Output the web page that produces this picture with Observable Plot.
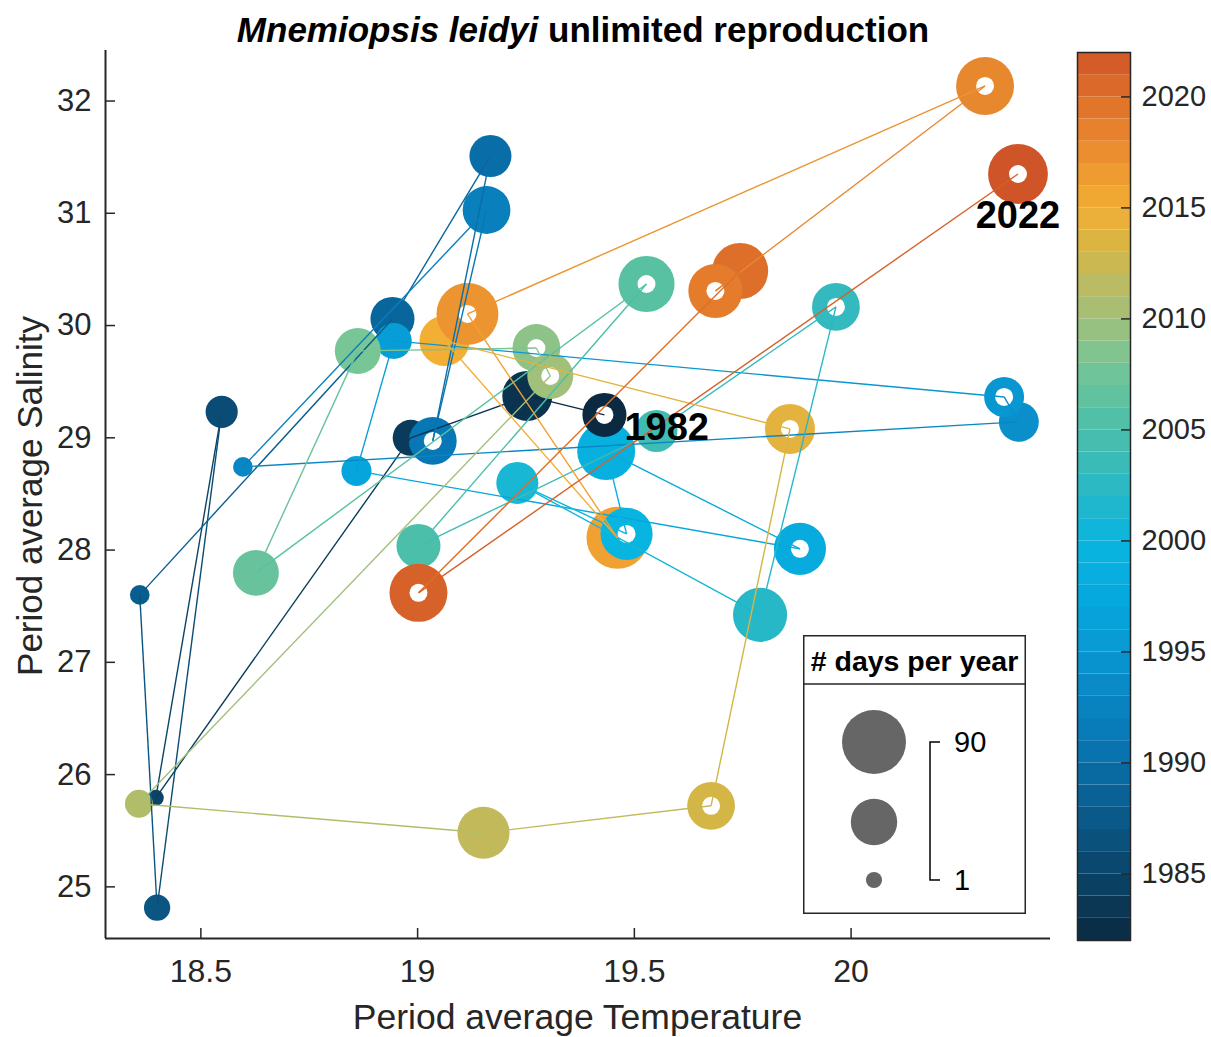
<!DOCTYPE html>
<html>
<head>
<meta charset="utf-8">
<script src="https://cdn.jsdelivr.net/npm/d3@7"></script>
<script src="https://cdn.jsdelivr.net/npm/@observablehq/plot@0.6"></script>
<style>
  html, body { margin: 0; padding: 0; background: white; }
  #wrap { position: relative; width: 1211px; height: 1037px; background: white;
          font-family: "Liberation Sans", Arial, Helvetica, sans-serif; color: #262626; }
  #wrap > * { position: absolute; }
  .title { top: 9px; left: 0; width: 1166px; text-align: center; font-size: 35px; font-weight: bold; color: #000; line-height: 42px; }
  .xlabel { top: 996px; left: 105px; width: 945px; text-align: center; font-size: 35.5px; line-height: 42px; }
  .ylabel { left: 30px; top: 496px; font-size: 35px; transform: translate(-50%, -50%) rotate(-90deg); white-space: nowrap; }
</style>
</head>
<body>
<div id="wrap"></div>
<script>
// ---------- data ----------
const years = [1982,1983,1984,1985,1986,1987,1988,1989,1990,1991,1992,1993,1994,1995,1996,1997,1998,1999,2000,2001,2002,2003,2004,2005,2006,2007,2008,2009,2010,2011,2012,2013,2014,2015,2016,2017,2018,2019,2020,2021,2022];
const temperature = [19.431,19.253,18.984,18.396,18.548,18.399,18.359,18.942,19.168,19.035,19.159,18.597,20.387,20.353,18.945,18.859,19.882,19.435,19.482,19.230,19.790,19.965,19.551,19.002,19.528,18.627,18.862,19.274,19.306,18.357,19.152,19.677,19.859,19.062,19.461,19.115,20.309,19.687,19.744,19.002,20.385];
const salinity = [29.204,29.373,29.000,25.793,29.231,24.814,27.601,30.059,31.510,28.972,31.029,28.741,29.142,29.364,29.863,28.705,28.011,28.883,28.144,28.598,27.423,30.166,29.061,28.037,30.370,27.797,29.774,29.800,29.551,25.740,25.482,25.722,29.079,29.863,28.109,30.103,32.134,30.308,30.486,27.619,31.350];
const daysPerYear = [40,53,25,1,19,11,4,40,36,48,48,4,32,32,25,16,58,73,58,36,63,48,36,40,68,44,44,48,44,13,58,48,53,53,84,84,73,63,68,73,78];
const hollow = [true,false,false,false,false,false,false,false,false,true,false,false,false,true,false,false,true,false,true,false,false,true,false,false,true,false,false,true,true,false,false,true,true,false,false,true,true,true,false,true,true];

const xTicks = [18.5, 19, 19.5, 20];
const yTicks = [25, 26, 27, 28, 29, 30, 31, 32];
const colorbarTicks = [1985, 1990, 1995, 2000, 2005, 2010, 2015, 2020];
const legendDays = [90, 45, 1];
const legendLabels = ["90", "", "1"];

// colormap anchors (year -> colour)
const cmapYears  = [1982, 1985, 1988, 1991, 1994, 1997, 2000, 2002, 2004, 2006, 2008, 2010, 2012, 2013, 2015, 2017, 2019, 2022];
const cmapColors = ["#0b2a42","#0a4468","#0a5d8f","#0877b5","#0a8fcb","#06a6dd","#08b5e0","#27b8c8","#40bcb3","#58c1a2","#78c596","#a1c07a","#c2b95a","#d4b647","#f3ae34","#ec9430","#e47c2c","#cf5528"];

// ---------- build ----------
const pts = years.map((y, i) => ({year: y, t: temperature[i], s: salinity[i], days: daysPerYear[i], hollow: hollow[i]}));
const segs = pts.slice(0, -1).map((p, i) => ({year: p.year, x1: p.t, y1: p.s, x2: pts[i + 1].t, y2: pts[i + 1].s}));
const drawOrder = [...pts.filter(p => !p.hollow), ...pts.filter(p => p.hollow)];

const xDomain = [18.28, 20.46];
const yDomain = [24.54, 32.45];
const W = 1211, H = 1037, mL = 105, mR = 161, mT = 50, mB = 99;
const plotW = W - mL - mR, plotH = H - mT - mB;
const axisColor = "#262626";
const font = "Liberation Sans, Arial, Helvetica, sans-serif";

const colorOpt = {type: "linear", domain: cmapYears, range: cmapColors};
const rOpt = {type: "sqrt", domain: [0, 95], range: [0, 32]};

const chart = Plot.plot({
  width: W, height: H, marginLeft: mL, marginRight: mR, marginTop: mT, marginBottom: mB,
  style: {fontFamily: font, fontSize: "31px", color: axisColor, background: "transparent", overflow: "visible"},
  x: {domain: xDomain},
  y: {domain: yDomain},
  color: colorOpt,
  r: rOpt,
  marks: [
    Plot.axisX({ticks: xTicks, tickSize: 0, tickPadding: 21, fontSize: 32, tickFormat: d => String(d), label: null, fill: axisColor}),
    Plot.axisY({ticks: yTicks, tickSize: 0, tickPadding: 14, fontSize: 31, tickFormat: d => String(d), label: null, fill: axisColor}),
    Plot.ruleX(xTicks, {stroke: axisColor, strokeWidth: 1.5, insetTop: plotH - 10}),
    Plot.ruleY(yTicks, {stroke: axisColor, strokeWidth: 1.5, insetRight: plotW - 10}),
    Plot.ruleX([xDomain[0]], {stroke: axisColor, strokeWidth: 2}),
    Plot.ruleY([yDomain[0]], {stroke: axisColor, strokeWidth: 2}),
    Plot.dot(drawOrder, {x: "t", y: "s", r: d => d.days + 5, fill: "year", stroke: null, sort: null}),
    Plot.dot(pts.filter(p => p.hollow), {x: "t", y: "s", r: 9, fill: "white"}),
    Plot.link(segs, {x1: "x1", y1: "y1", x2: "x2", y2: "y2", stroke: "year", strokeWidth: 1.4}),
    Plot.text([pts[0]], {x: "t", y: "s", text: d => String(d.year), dx: 20, dy: 13, textAnchor: "start", fontSize: 38, fontWeight: "bold", fill: "black"}),
    Plot.text([pts[pts.length - 1]], {x: "t", y: "s", text: d => String(d.year), dx: 0, dy: 42, textAnchor: "middle", fontSize: 38, fontWeight: "bold", fill: "black"})
  ]
});
chart.style.left = "0px"; chart.style.top = "0px";

// colour bar
const cbYears = years.slice(0, -1);
const colorbar = Plot.plot({
  width: 151, height: H, marginLeft: 17, marginRight: 81, marginTop: 52, marginBottom: 97,
  style: {fontFamily: font, fontSize: "29px", color: axisColor, background: "transparent", overflow: "visible"},
  x: {domain: [0, 1], axis: null},
  y: {domain: [years[0], years[years.length - 1]]},
  color: colorOpt,
  marks: [
    Plot.rect(cbYears, {x1: 0, x2: 1, y1: d => d, y2: d => d + 1, fill: d => d + 0.5}),
    Plot.ruleY(colorbarTicks, {stroke: axisColor, strokeWidth: 1.5, insetLeft: 44}),
    Plot.frame({stroke: axisColor, strokeWidth: 1.5}),
    Plot.axisY({anchor: "right", ticks: colorbarTicks, tickSize: 0, tickPadding: 11, fontSize: 29, tickFormat: d => String(d), label: null, fill: axisColor})
  ]
});
colorbar.style.left = "1060px"; colorbar.style.top = "0px";

// size legend
const rScale = chart.scale("r");
const LW = 223, LH = 279;
const legend = d3.create("svg").attr("width", LW).attr("height", LH)
  .style("left", "803px").style("top", "635px").style("font-family", font);
legend.append("rect").attr("x", 0.75).attr("y", 0.75).attr("width", LW - 1.5).attr("height", LH - 1.5)
  .attr("fill", "white").attr("stroke", axisColor).attr("stroke-width", 1.5);
legend.append("line").attr("x1", 0).attr("x2", LW).attr("y1", 49).attr("y2", 49).attr("stroke", axisColor).attr("stroke-width", 1.5);
legend.append("text").attr("x", LW / 2).attr("y", 36).attr("text-anchor", "middle")
  .attr("font-size", 28.5).attr("font-weight", "bold").attr("fill", "#000").text("# days per year");
const ly = d3.scaleLinear().domain([90, 45, 1]).range([107, 187, 245]);
legend.selectAll("circle").data(legendDays).join("circle")
  .attr("cx", 71).attr("cy", d => ly(d)).attr("r", d => rScale.apply(d + 5)).attr("fill", "#666666");
legend.append("path").attr("d", `M137,${ly(90)}H127V${ly(1)}H137`).attr("fill", "none").attr("stroke", "#000").attr("stroke-width", 1.5);
legend.selectAll("text.lab").data(legendDays).join("text").attr("class", "lab")
  .attr("x", 151).attr("y", d => ly(d) + 10).attr("font-size", 29).attr("fill", "#000")
  .text((d, i) => legendLabels[i]);

const wrap = document.getElementById("wrap");
wrap.appendChild(chart);
wrap.appendChild(colorbar);
wrap.appendChild(legend.node());
const title = document.createElement("div");
title.className = "title";
title.innerHTML = "<i>Mnemiopsis leidyi</i> unlimited reproduction";
wrap.appendChild(title);
const xl = document.createElement("div"); xl.className = "xlabel"; xl.textContent = "Period average Temperature"; wrap.appendChild(xl);
const yl = document.createElement("div"); yl.className = "ylabel"; yl.textContent = "Period average Salinity"; wrap.appendChild(yl);
</script>
</body>
</html>
